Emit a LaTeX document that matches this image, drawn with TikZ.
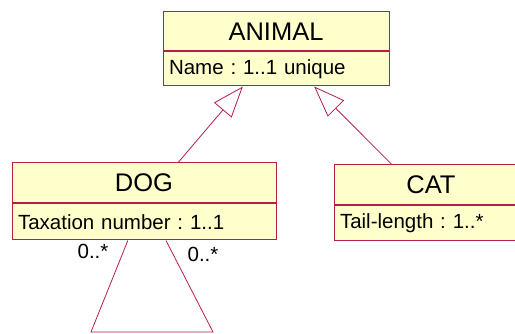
\documentclass[tikz,border=0pt]{standalone}
\usepackage{fontspec}
\setmainfont{Liberation Sans}
\frenchspacing
\usetikzlibrary{arrows.meta,positioning,calc}
\definecolor{umlred}{RGB}{180,30,75}
\definecolor{umlfill}{RGB}{255,255,204}
\tikzset{
  classname/.style={draw=umlred, fill=umlfill, line width=1pt, font=\fontsize{25.5}{30}\selectfont, inner sep=0pt},
  classattr/.style={draw=umlred, fill=umlfill, line width=1pt, font=\fontsize{20.5}{24}\selectfont, inner xsep=6pt, inner ysep=0pt, align=left},
  inherit/.style={draw=umlred, line width=0.8pt, -{Triangle[open, length=31pt, width=23pt, fill=white]}},
  assoc/.style={draw=umlred, line width=0.8pt},
  mult/.style={font=\fontsize{20.5}{24}\selectfont, anchor=base}
}
\begin{document}
\begin{tikzpicture}[x=1pt,y=1pt]
                \useasboundingbox (0,0) rectangle (515,334);
                \clip (0,0) rectangle (515,334);

                % classes
                \node[classname, minimum width=226pt, minimum height=39pt] (animal) at (276,302.5) {ANIMAL};
                \node[classattr, text width=214pt, minimum height=34pt, below=0pt of animal] (animalattr) {Name : 1..1 unique};

                \node[classname, minimum width=264pt, minimum height=40pt] (dog) at (144,151) {DOG};
                \node[classattr, text width=252pt, minimum height=36pt, below=0pt of dog] (dogattr) {Taxation number : 1..1};

                \node[classname, minimum width=194pt, minimum height=40pt] (cat) at (431,149) {CAT};
                \node[classattr, text width=182pt, minimum height=35pt, below=0pt of cat] (catattr) {Tail-length : 1..*};

                % generalisation
                \draw[inherit] ($(dog.north west)!0.629!(dog.north east)$) -- ($(animalattr.south west)!0.354!(animalattr.south east)$);
                \draw[inherit] ($(cat.north west)!0.299!(cat.north east)$) -- ($(animalattr.south west)!0.668!(animalattr.south east)$);

                % association of dog with itself
                \coordinate (loopl) at (91,2);
                \coordinate (loopr) at (213,2);
                \draw[assoc] ($(dogattr.south west)!0.439!(dogattr.south east)$) -- (loopl) -- (loopr) -- ($(dogattr.south west)!0.583!(dogattr.south east)$);

                \node[mult] (multl) at (93,75) {0..*};
                \node[mult] (multr) at (203,72) {0..*};

            \end{tikzpicture}
\end{document}
